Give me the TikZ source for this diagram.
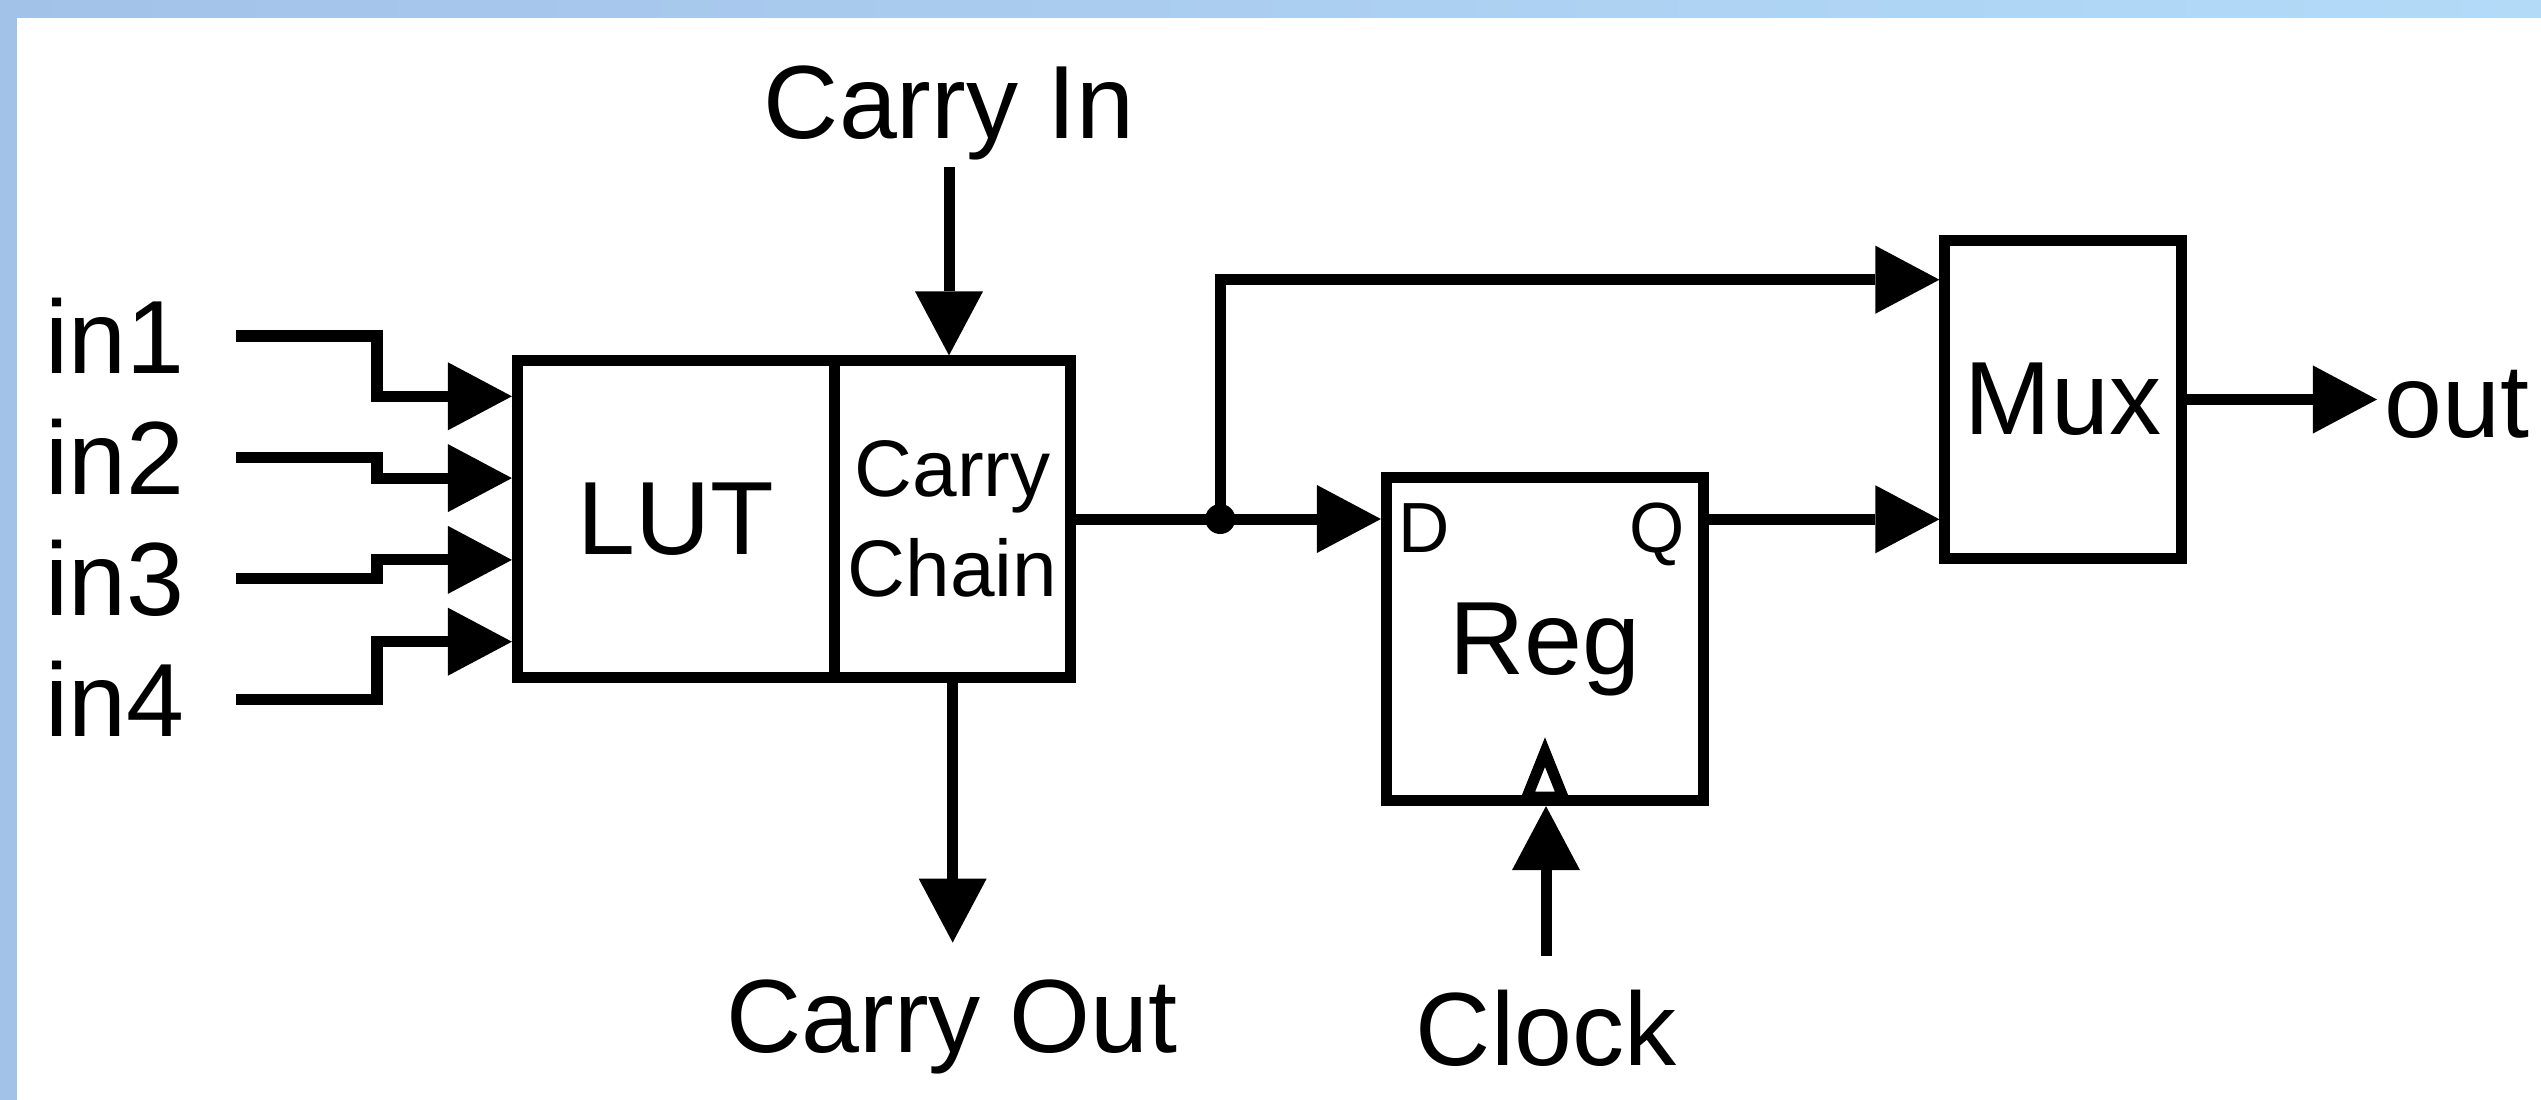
\documentclass[tikz,border=0pt]{standalone}
\usepackage{fontspec}
\setmainfont{Liberation Sans}
\usepackage{xcolor}
\usetikzlibrary{arrows.meta, positioning, calc}
\definecolor{frameL}{HTML}{A3C2E8}
\definecolor{frameR}{HTML}{B3DBF8}

\begin{document}
\begin{tikzpicture}[
  x=0.01cm, y=-0.01cm,
  block/.style={rectangle, draw, line width=0.11cm, inner sep=0pt, minimum width=3.17cm, minimum height=3.16cm, font=\fontsize{29.6}{35}\selectfont},
  lbl/.style={inner sep=2pt, font=\fontsize{29.6}{35}\selectfont},
  port/.style={inner sep=2pt, font=\fontsize{20.2}{24}\selectfont},
  wire/.style={line width=0.11cm, -{Triangle[length=0.64cm, width=0.68cm, line width=0pt]}},
]
  \useasboundingbox (0,0) rectangle (2541,1100);
  \fill[white] (0,0) rectangle (2541,1100);
  \fill[left color=frameL, right color=frameR] (0,0) rectangle (2541,17);
  \fill[frameL] (0,0) rectangle (17,1100);

  \node[block] (lut) at (676,519) {LUT};
  \node[block, minimum width=2.36cm, align=center, font=\fontsize{22.8}{28.45}\selectfont, right=-0.11cm of lut] (chain) {Carry\\Chain};
  \node[block, minimum height=3.23cm, text depth=0pt] (reg) at (1545,639) {Reg};
  \node[block, minimum width=2.36cm, minimum height=3.17cm] (mux) at (2063,399.5) {Mux};

  \node[port, anchor=base west] (dport) at (1391,552) {D};
  \node[port, anchor=base east] (qport) at (1692,552) {Q};
  \draw[line width=0.11cm] ($(reg.south)+(-18,-9)$) -- ($(reg.south)+(0,-54)$) -- ($(reg.south)+(18,-9)$) -- cycle;

  \node[lbl, anchor=base] (cin) at (949,138) {Carry In};
  \node[lbl, anchor=base] (cout) at (952,1052) {Carry Out};
  \node[lbl, anchor=base] (clk) at (1546,1065) {Clock};
  \node[lbl, anchor=base west] (outlbl) at (2377,437) {out};

  % inputs
  \foreach \i/\f in {1/0.125, 2/0.375, 3/0.625, 4/0.875} {
    \node[lbl, anchor=base west] (in\i) at (38,{373+121*(\i-1)}) {in\i};
    \draw[wire] ($(in\i.base west)+(198,-37)$) -- ++(141,0) |- ($(lut.north west)!\f!(lut.south west)$);
  }

  \coordinate (junc) at ($(chain.east)+(144,0)$);
  \coordinate (ma) at ($(mux.north west)!0.135!(mux.south west)$);
  \coordinate (mb) at ($(mux.north west)!0.865!(mux.south west)$);

  \draw[wire] (cin.south) -- (cin.south |- chain.north);
  \draw[wire, shorten >=0.29cm] (chain.south) -- (chain.south |- cout.north);
  \draw[wire] (chain.east) -- (chain.east -| reg.west);
  \fill (junc) circle (0.15cm);
  \draw[wire] (junc) |- (ma);
  \draw[wire] (reg.east |- mb) -- (mb);
  \draw[wire] (mux.east) -- (mux.east -| outlbl.west);
  \draw[wire, shorten <=0.26cm] (clk.north) -- (clk.north |- reg.south);
\end{tikzpicture}
\end{document}
